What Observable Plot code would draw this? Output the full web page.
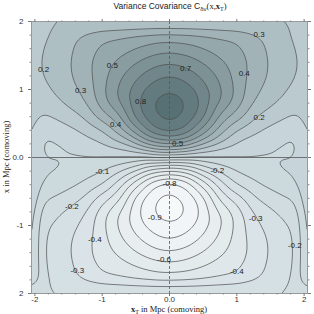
<!DOCTYPE html>
<html><head><meta charset="utf-8">
<script src="https://cdn.jsdelivr.net/npm/d3@7"></script>
<script src="https://cdn.jsdelivr.net/npm/@observablehq/plot@0.6"></script>
<style>
body{margin:0;background:#fff;}
</style></head><body>
<div id="chart"></div>
<script>
// grid columns: x_T sample positions (Mpc)
const xTValues = [-2,-1.75,-1.5,-1.25,-1,-0.75,-0.5,-0.25,0,0.25,0.5,0.75,1,1.25,1.5,1.75,2];
// grid rows: x sample positions (Mpc), top to bottom
const xValues = [1.875,1.625,1.375,1.125,0.875,0.625,0.375,0.125,-0.125,-0.375,-0.625,-0.875,-1.125,-1.375,-1.625,-1.875];
// covariance values, one row per x value
const C = [
 [0.17,0.198,0.25,0.31,0.35,0.36,0.38,0.39,0.39,0.39,0.38,0.36,0.35,0.31,0.25,0.198,0.17],
 [0.18,0.215,0.28,0.35,0.42,0.45,0.49,0.53,0.55,0.53,0.49,0.45,0.42,0.35,0.28,0.215,0.18],
 [0.185,0.225,0.29,0.37,0.46,0.53,0.61,0.68,0.71,0.68,0.61,0.53,0.46,0.37,0.29,0.225,0.185],
 [0.175,0.215,0.28,0.35,0.47,0.60,0.71,0.80,0.85,0.80,0.71,0.60,0.47,0.35,0.28,0.215,0.175],
 [0.14,0.18,0.24,0.31,0.48,0.63,0.78,0.905,0.94,0.905,0.78,0.63,0.48,0.31,0.24,0.18,0.14],
 [0.075,0.11,0.16,0.22,0.37,0.49,0.76,0.905,0.95,0.905,0.76,0.49,0.37,0.22,0.16,0.11,0.075],
 [0.001,0.02,0.06,0.11,0.17,0.33,0.55,0.78,0.86,0.78,0.55,0.33,0.17,0.11,0.06,0.02,0.001],
 [-0.03,-0.02,-0.005,0.03,0.05,0.10,0.18,0.33,0.38,0.33,0.18,0.10,0.05,0.03,-0.005,-0.02,-0.03],
 [0.03,0.02,0.005,-0.03,-0.05,-0.10,-0.18,-0.33,-0.38,-0.33,-0.18,-0.10,-0.05,-0.03,0.005,0.02,0.03],
 [-0.001,-0.02,-0.06,-0.11,-0.17,-0.33,-0.55,-0.78,-0.86,-0.78,-0.55,-0.33,-0.17,-0.11,-0.06,-0.02,-0.001],
 [-0.075,-0.11,-0.16,-0.22,-0.37,-0.49,-0.76,-0.905,-0.95,-0.905,-0.76,-0.49,-0.37,-0.22,-0.16,-0.11,-0.075],
 [-0.14,-0.18,-0.24,-0.31,-0.48,-0.63,-0.78,-0.905,-0.94,-0.905,-0.78,-0.63,-0.48,-0.31,-0.24,-0.18,-0.14],
 [-0.175,-0.215,-0.28,-0.35,-0.47,-0.60,-0.71,-0.80,-0.85,-0.80,-0.71,-0.60,-0.47,-0.35,-0.28,-0.215,-0.175],
 [-0.185,-0.225,-0.29,-0.37,-0.46,-0.53,-0.61,-0.68,-0.71,-0.68,-0.61,-0.53,-0.46,-0.37,-0.29,-0.225,-0.185],
 [-0.18,-0.215,-0.28,-0.35,-0.42,-0.45,-0.49,-0.53,-0.55,-0.53,-0.49,-0.45,-0.42,-0.35,-0.28,-0.215,-0.18],
 [-0.17,-0.198,-0.25,-0.31,-0.35,-0.36,-0.38,-0.39,-0.39,-0.39,-0.38,-0.36,-0.35,-0.31,-0.25,-0.198,-0.17]
];
// contour levels
const fillLevels = [-1,-0.9,-0.8,-0.7,-0.6,-0.5,-0.4,-0.3,-0.2,-0.1,0,0.1,0.2,0.3,0.4,0.5,0.6,0.7,0.8,0.9];
const lineLevels = [-0.9,-0.8,-0.7,-0.6,-0.5,-0.4,-0.3,-0.2,-0.1,0,0.1,0.2,0.3,0.4,0.5,0.6,0.7,0.8,0.9];
// contour labels
const labelText = ["0.2","0.5","0.3","0.8","0.4","0.3","0.7","0.4","0.2","0.5",
                   "-0.1","-0.2","-0.9","-0.4","-0.6","-0.3","-0.8","-0.2","-0.3","-0.2","-0.4"];
const labelXT = [-1.87,-0.85,-1.32,-0.43,-0.80,1.33,0.24,1.11,1.33,0.12,
                 -1.0,-1.45,-0.22,-1.11,-0.08,-1.37,0.0,0.71,1.28,1.86,1.0];
const labelX = [1.30,1.35,0.98,0.82,0.49,1.81,1.31,1.23,0.59,0.21,
                -0.20,-0.72,-0.88,-1.21,-1.50,-1.66,-0.38,-0.19,-0.89,-1.29,-1.67];
// ticks
const xMajor = [-2,-1,0,1,2];
const xMajorLabels = ["-2","-1","0.0","1","2"];
const yMajor = [-2,-1,0,1,2];
const yMajorLabels = ["2","-1","0.0","1","2"];
const minorTicks = [-1.8,-1.6,-1.4,-1.2,-0.8,-0.6,-0.4,-0.2,0.2,0.4,0.6,0.8,1.2,1.4,1.6,1.8];

// sample table built from the arrays
const samples = [];
xValues.forEach((xv, i) => xTValues.forEach((tv, j) => samples.push({xT: tv, x: xv, v: C[i][j]})));
const field = {x: "xT", y: "x", value: "v", interpolate: "barycentric", pixelSize: 1, blur: 6};
const noLabel = () => "";

const chart = Plot.plot({
  width: 314, height: 314,
  marginLeft: 31, marginRight: 7, marginTop: 21, marginBottom: 21,
  style: {fontFamily: "'Liberation Sans', Arial, sans-serif", fontSize: "8px", background: "#fff"},
  x: {domain: [-2.05, 2.05], axis: null},
  y: {domain: [-2, 2], axis: null},
  color: {type: "linear", domain: [-1, 0, 0.9], range: ["#f6f9fa", "#c7d5da", "#577073"], interpolate: "rgb"},
  marks: [
    Plot.contour(samples, {...field, thresholds: fillLevels, fill: "value", stroke: "none", clip: true}),
    Plot.contour(samples, {...field, thresholds: lineLevels, fill: "none", stroke: "#4d4d4d", strokeWidth: 0.7, clip: true}),
    Plot.ruleX([0], {stroke: "#555", strokeWidth: 0.8, strokeDasharray: "3,2"}),
    Plot.ruleY([0], {stroke: "#555", strokeWidth: 0.8}),
    Plot.text(labelText, {x: labelXT, y: labelX, text: labelText, fontSize: 8, fill: "#222"}),
    Plot.frame({stroke: "#999"}),
    Plot.axisX(xMajor, {anchor: "bottom", label: null, tickSize: 3, tickPadding: 0, fontSize: 8, tickFormat: (d, i) => xMajorLabels[i], fill: "#333", stroke: "#777"}),
    Plot.axisX(minorTicks, {anchor: "bottom", label: null, tickSize: 1.5, tickFormat: noLabel, stroke: "#888"}),
    Plot.axisX(xMajor, {anchor: "top", label: null, tickSize: 3, tickFormat: noLabel, stroke: "#777"}),
    Plot.axisX(minorTicks, {anchor: "top", label: null, tickSize: 1.5, tickFormat: noLabel, stroke: "#888"}),
    Plot.axisY(yMajor, {anchor: "left", label: null, tickSize: 3, tickPadding: 5, fontSize: 8, tickFormat: (d, i) => yMajorLabels[i], fill: "#333", stroke: "#777"}),
    Plot.axisY(minorTicks, {anchor: "left", label: null, tickSize: 1.5, tickFormat: noLabel, stroke: "#888"}),
    Plot.axisY(yMajor, {anchor: "right", label: null, tickSize: 3, tickFormat: noLabel, stroke: "#777"}),
    Plot.axisY(minorTicks, {anchor: "right", label: null, tickSize: 1.5, tickFormat: noLabel, stroke: "#888"})
  ]
});
document.getElementById("chart").appendChild(chart);

const svg = d3.select(chart);
const serif = "'Liberation Serif', 'Times New Roman', serif";
// title
const t = svg.append("text").attr("x", 170).attr("y", 9).attr("text-anchor", "middle")
  .attr("font-size", 8.5).attr("fill", "#222").attr("font-family", "'Liberation Sans', Arial, sans-serif");
t.append("tspan").text("Variance Covariance C");
t.append("tspan").attr("font-size", 6).attr("dy", 2).text("δv");
t.append("tspan").attr("dy", -2).attr("font-family", serif).text("(x,");
t.append("tspan").attr("font-family", serif).attr("font-weight", "bold").text("x");
t.append("tspan").attr("font-family", serif).attr("font-size", 6).attr("dy", 2).text("T");
t.append("tspan").attr("font-family", serif).attr("dy", -2).text(")");
// x axis label
const xl = svg.append("text").attr("x", 169).attr("y", 312).attr("text-anchor", "middle")
  .attr("font-size", 8.5).attr("fill", "#222").attr("font-family", serif);
xl.append("tspan").attr("font-weight", "bold").text("x");
xl.append("tspan").attr("font-size", 6).attr("dy", 1.5).text("T");
xl.append("tspan").attr("dy", -1.5).text(" in Mpc (comoving)");
// y axis label
svg.append("text").attr("transform", "translate(9,157) rotate(-90)").attr("text-anchor", "middle")
  .attr("font-size", 8.5).attr("fill", "#222").attr("font-family", serif).text("x in Mpc (comoving)");
</script></body></html>
